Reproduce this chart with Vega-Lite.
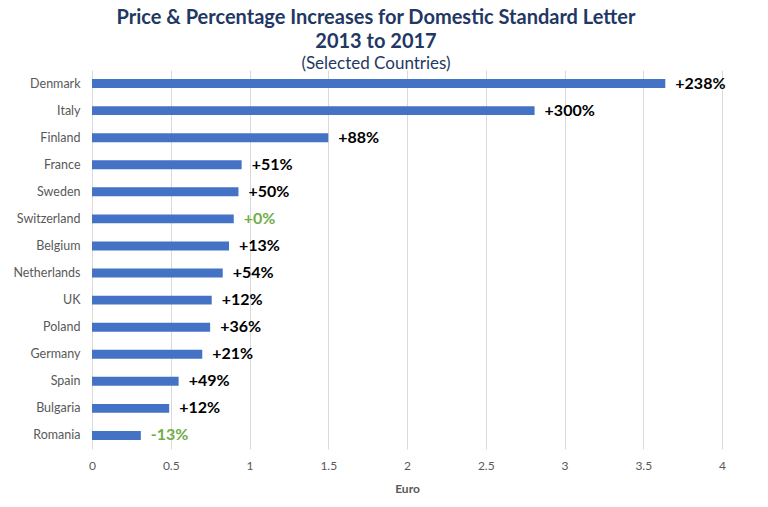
{
  "$schema": "https://vega.github.io/schema/vega-lite/v6.json",
  "width": 630,
  "height": 379,
  "autosize": "none",
  "padding": {"left": 92, "top": 70, "right": 46, "bottom": 58},
  "background": "white",
  "config": {
    "view": {"stroke": null},
    "font": "Lato"
  },
  "title": {
    "text": ["Price & Percentage Increases for Domestic Standard Letter", "2013 to 2017"],
    "subtitle": "(Selected Countries)",
    "anchor": "middle",
    "frame": "group",
    "dx": -31,
    "offset": -2,
    "font": "Lato",
    "fontSize": 20,
    "fontWeight": "bold",
    "color": "#1F3864",
    "lineHeight": 24,
    "subtitleFont": "Lato",
    "subtitleFontSize": 17,
    "subtitleColor": "#1F3864",
    "subtitlePadding": 4
  },
  "data": {
    "values": [
      {"country": "Denmark", "euro": 3.64, "pct": 238, "label": "+238%"},
      {"country": "Italy", "euro": 2.81, "pct": 300, "label": "+300%"},
      {"country": "Finland", "euro": 1.50, "pct": 88, "label": "+88%"},
      {"country": "France", "euro": 0.95, "pct": 51, "label": "+51%"},
      {"country": "Sweden", "euro": 0.93, "pct": 50, "label": "+50%"},
      {"country": "Switzerland", "euro": 0.90, "pct": 0, "label": "+0%"},
      {"country": "Belgium", "euro": 0.87, "pct": 13, "label": "+13%"},
      {"country": "Netherlands", "euro": 0.83, "pct": 54, "label": "+54%"},
      {"country": "UK", "euro": 0.76, "pct": 12, "label": "+12%"},
      {"country": "Poland", "euro": 0.75, "pct": 36, "label": "+36%"},
      {"country": "Germany", "euro": 0.70, "pct": 21, "label": "+21%"},
      {"country": "Spain", "euro": 0.55, "pct": 49, "label": "+49%"},
      {"country": "Bulgaria", "euro": 0.49, "pct": 12, "label": "+12%"},
      {"country": "Romania", "euro": 0.31, "pct": -13, "label": "-13%"}
    ]
  },
  "encoding": {
    "y": {
      "field": "country",
      "type": "nominal",
      "sort": null,
      "scale": {"paddingInner": 0.67, "paddingOuter": 0.335},
      "axis": {
        "title": null,
        "domain": false,
        "ticks": false,
        "labelFont": "Lato",
        "labelFontSize": 12.5,
        "labelColor": "#595959",
        "labelPadding": 12
      }
    },
    "x": {
      "field": "euro",
      "type": "quantitative",
      "scale": {"domain": [0, 4], "nice": false},
      "axis": {
        "title": "Euro",
        "titleFont": "Lato",
        "titleFontSize": 12,
        "titleFontWeight": "bold",
        "titleColor": "#595959",
        "titlePadding": 12,
        "values": [0, 0.5, 1, 1.5, 2, 2.5, 3, 3.5, 4],
        "format": "~g",
        "domain": false,
        "ticks": false,
        "grid": true,
        "gridColor": "#D9D9D9",
        "gridWidth": 1,
        "labelFont": "Lato",
        "labelFontSize": 12,
        "labelColor": "#595959",
        "labelPadding": 11,
        "labelFlush": false
      }
    }
  },
  "layer": [
    {
      "mark": {"type": "bar", "color": "#4472C4"}
    },
    {
      "mark": {
        "type": "text",
        "align": "left",
        "baseline": "middle",
        "dx": 10,
        "font": "Lato",
        "fontSize": 16,
        "fontWeight": "bold"
      },
      "encoding": {
        "text": {"field": "label"},
        "color": {
          "condition": {"test": "datum.pct <= 0", "value": "#70AD47"},
          "value": "#000000"
        }
      }
    }
  ]
}
